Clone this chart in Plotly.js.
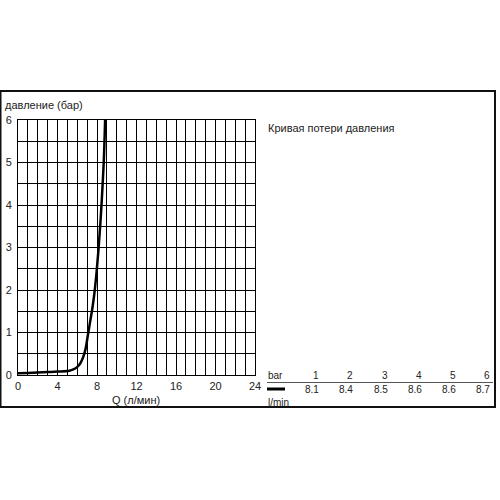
<!DOCTYPE html>
<html><head><meta charset="utf-8">
<script src="https://cdn.plot.ly/plotly-3.0.1.min.js"></script>
<style>body{margin:0;background:#fff}#c{width:500px;height:500px}</style>
</head><body><div id="c"></div>
<script>
// curve data
var flowQ = [0, 1, 2, 3, 4, 5.2, 5.6, 5.95, 6.3, 6.6, 6.85, 7.05, 7.3, 7.55, 7.75, 7.95, 8.15, 8.35, 8.55, 8.7, 8.82];
var pressureBar = [0.04, 0.05, 0.06, 0.07, 0.08, 0.1, 0.13, 0.18, 0.27, 0.42, 0.62, 0.9, 1.25, 1.6, 1.95, 2.4, 2.95, 3.6, 4.4, 5.1, 6];
// table data
var tableBar = [1, 2, 3, 4, 5, 6];
var tableFlow = ['8.1', '8.4', '8.5', '8.6', '8.6', '8.7'];
var xTicks = [0, 4, 8, 12, 16, 20, 24];
var yTicks = [0, 1, 2, 3, 4, 5, 6];

var L = 18, R = 255, T = 120, B = 375;
function px(x){ return (x - L) / (R - L); }
function py(y){ return (B - y) / (B - T); }
var font = {family: 'Liberation Sans, Arial, sans-serif', size: 11, color: '#222'};
var small = {family: 'Liberation Sans, Arial, sans-serif', size: 10, color: '#222'};

var annotations = [
  {text: 'давление (бар)', x: px(4), y: py(105), xanchor: 'left', yanchor: 'middle'},
  {text: 'Q (л/мин)', x: px(136), y: py(393), xanchor: 'center', yanchor: 'top'},
  {text: 'Кривая потери давления', x: px(267), y: py(128), xanchor: 'left', yanchor: 'middle'},
  {text: 'bar', x: px(267), y: py(375), xanchor: 'left', yanchor: 'middle', font: small},
  {text: 'l/min', x: px(267), y: py(402), xanchor: 'left', yanchor: 'middle', font: small}
];
var colX = [320, 354, 389, 423, 457, 491];
for (var i = 0; i < tableBar.length; i++) {
  annotations.push({text: String(tableBar[i]), x: px(colX[i]), y: py(375), xanchor: 'right', yanchor: 'middle', font: small});
  annotations.push({text: tableFlow[i], x: px(colX[i]), y: py(389), xanchor: 'right', yanchor: 'middle', font: small});
}
annotations.forEach(function(a){ a.xref = 'paper'; a.yref = 'paper'; a.showarrow = false; a.borderpad = 0; if(!a.font) a.font = font; });

var shapes = [
  {type: 'rect', xref: 'paper', yref: 'paper', x0: px(0.5), x1: px(495), y0: py(407), y1: py(91), line: {color: '#111', width: 2}},
  {type: 'line', xref: 'paper', yref: 'paper', x0: px(267), x1: px(493), y0: py(382.5), y1: py(382.5), line: {color: '#555', width: 1}},
  {type: 'line', xref: 'paper', yref: 'paper', x0: px(267), x1: px(285), y0: py(389), y1: py(389), line: {color: '#000', width: 3}}
];

Plotly.newPlot('c', [{
  x: flowQ, y: pressureBar, type: 'scatter', mode: 'lines',
  line: {color: '#000', width: 2.5, shape: 'spline', smoothing: 1},
  hoverinfo: 'skip'
}], {
  width: 500, height: 500,
  margin: {l: L, r: 500 - R, t: T, b: 500 - B, pad: 0},
  paper_bgcolor: '#fff', plot_bgcolor: '#fff',
  showlegend: false,
  font: font,
  xaxis: {range: [0, 24], tickvals: xTicks, ticks: '', showgrid: true, gridcolor: '#000', gridwidth: 1,
    minor: {dtick: 1, showgrid: true, gridcolor: '#000', gridwidth: 1}, zeroline: false,
    showline: true, linecolor: '#000', linewidth: 1, mirror: true, fixedrange: true, ticklabelstandoff: 1},
  yaxis: {range: [0, 6], tickvals: yTicks, ticks: '', showgrid: true, gridcolor: '#000', gridwidth: 1,
    minor: {dtick: 0.5, showgrid: true, gridcolor: '#000', gridwidth: 1}, zeroline: false,
    showline: true, linecolor: '#000', linewidth: 1, mirror: true, fixedrange: true, ticklabelstandoff: 3},
  annotations: annotations,
  shapes: shapes
}, {displayModeBar: false, staticPlot: true});
</script></body></html>
